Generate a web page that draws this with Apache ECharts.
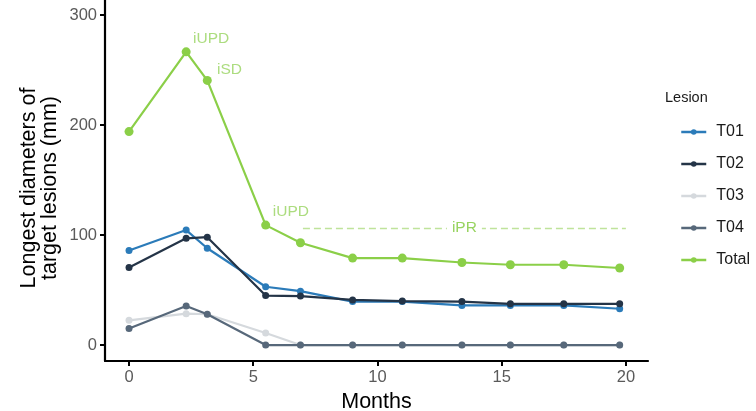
<!DOCTYPE html>
<html>
<head>
<meta charset="utf-8">
<script src="https://cdn.jsdelivr.net/npm/echarts@6/dist/echarts.min.js"></script>
<style>
html,body{margin:0;padding:0;background:#fff;}
#chart{width:756px;height:411px;}
</style>
</head>
<body>
<div id="chart"></div>
<script>
// ---- data ----
const months = [0, 2.3, 3.15, 5.5, 6.9, 9.0, 11.0, 13.4, 15.35, 17.5, 19.75];
const seriesNames = ['T01', 'T02', 'T03', 'T04', 'Total'];
const t01   = [86, 104.5, 88, 53, 49, 39.5, 39.5, 36, 36, 36, 33];
const t02   = [70.5, 97, 98, 45, 44.5, 41, 40, 39.5, 37.5, 37.5, 37.5];
const t03   = [22.5, 28.5, 28, 11, 0, 0, 0, 0, 0, 0, 0];
const t04   = [15, 35.5, 28, 0, 0, 0, 0, 0, 0, 0, 0];
const total = [194, 266.5, 240.5, 109, 93, 79, 79, 75, 73, 73, 70];
const xTicks = [0, 5, 10, 15, 20];
const yTicks = [0, 100, 200, 300];
// response annotations (text position in data units)
const annoLabels = ['iUPD', 'iSD', 'iUPD'];
const annoX = [2.58, 3.54, 5.79];
const annoY = [278, 250, 121];
const iprLabel = 'iPR';
const iprY = 106.4;
const iprStart = 7.0;
const iprEnd = 20.0;

const colors = ['#2b7bb9', '#243447', '#d5d9dd', '#57687a', '#8bcf48'];
const valuesBy = [t01, t02, t03, t04, total];
const FONT = "'Liberation Sans', Arial, sans-serif";

const chart = echarts.init(document.getElementById('chart'), null, {renderer: 'canvas'});

const lineSeries = seriesNames.map((nm, i) => {
  const s = {
    name: nm,
    type: 'line',
    data: months.map((m, j) => [m, valuesBy[i][j]]),
    symbol: 'circle',
    symbolSize: nm === 'Total' ? 9 : 7,
    color: colors[i],
    lineStyle: {width: 2.2, color: colors[i]},
    itemStyle: {color: colors[i]},
    z: 2 + i,
    emphasis: {disabled: true}
  };
  if (nm === 'Total') {
    s.markLine = {
      silent: true,
      symbol: ['none', 'none'],
      lineStyle: {type: [7, 4], color: '#bfe39b', width: 1.4},
      label: {
        show: true, position: 'middle', distance: 0, verticalAlign: 'middle',
        formatter: iprLabel,
        color: '#97d35f', fontSize: 15.5, fontFamily: FONT,
        backgroundColor: '#fff', padding: [0, 5]
      },
      data: [[{coord: [iprStart, iprY]}, {coord: [iprEnd, iprY]}]]
    };
  }
  return s;
});

const annoSeries = {
  name: 'annotations',
  type: 'scatter',
  data: annoLabels.map((t, i) => ({name: t, value: [annoX[i], annoY[i]]})),
  symbolSize: 0,
  silent: true,
  z: 10,
  label: {
    show: true, position: 'right', distance: 0,
    formatter: p => p.name,
    color: '#97d35f', fontSize: 15.5, fontFamily: FONT
  }
};

const option = {
  animation: false,
  backgroundColor: '#fff',
  grid: {left: 105, right: 108, top: 0, bottom: 50, containLabel: false, outerBoundsMode: 'none'},
  xAxis: {
    type: 'value', min: -0.967, max: 20.89,
    axisLine: {show: true, onZero: false, lineStyle: {color: '#000', width: 2.2}},
    axisTick: {show: true, length: 5, customValues: xTicks, lineStyle: {color: '#000', width: 2}},
    axisLabel: {customValues: xTicks, color: '#5a5a5a', fontSize: 16.5, fontFamily: FONT, margin: 8},
    splitLine: {show: false},
    name: 'Months', nameLocation: 'middle', nameGap: 28,
    nameTextStyle: {color: '#000', fontSize: 21.5, fontFamily: FONT}
  },
  yAxis: {
    type: 'value', min: -14.5, max: 313.6,
    axisLine: {show: true, onZero: false, lineStyle: {color: '#000', width: 2.2}},
    axisTick: {show: true, length: 5, customValues: yTicks, lineStyle: {color: '#000', width: 2}},
    axisLabel: {customValues: yTicks, color: '#5a5a5a', fontSize: 16.5, fontFamily: FONT, margin: 8},
    splitLine: {show: false}
  },
  legend: {
    data: seriesNames,
    orient: 'vertical',
    left: 675, top: 118,
    itemWidth: 25, itemHeight: 7, itemGap: 14,
    lineStyle: {width: 2.5},
    textStyle: {color: '#1a1a1a', fontSize: 16, fontFamily: FONT, lineHeight: 18, padding: [0, 0, 0, 5]},
    selectedMode: false
  },
  graphic: [
    {
      type: 'text', left: 665, top: 90,
      style: {text: 'Lesion', fill: '#1a1a1a', font: "14.5px " + FONT}
    },
    {
      type: 'text', x: 40, y: 188, rotation: Math.PI / 2,
      style: {
        text: 'Longest diameters of\ntarget lesions (mm)', fill: '#000',
        font: "21.5px " + FONT, align: 'center', verticalAlign: 'middle', lineHeight: 21
      }
    }
  ],
  series: [...lineSeries, annoSeries]
};
chart.setOption(option);
</script>
</body>
</html>
